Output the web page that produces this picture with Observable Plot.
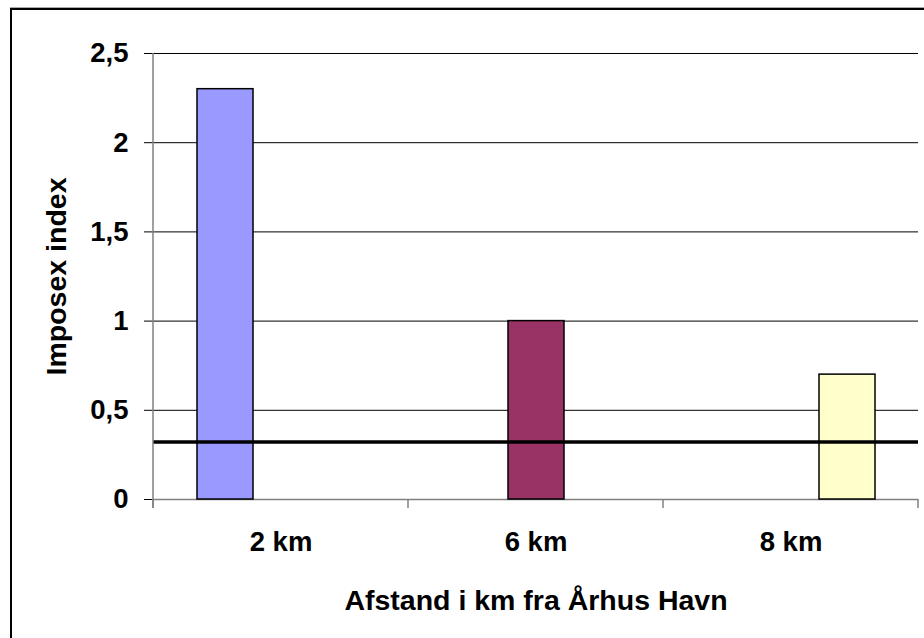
<!DOCTYPE html>
<html><head><meta charset="utf-8">
<script src="https://cdn.jsdelivr.net/npm/d3@7"></script>
<script src="https://cdn.jsdelivr.net/npm/@observablehq/plot@0.6"></script>
<style>
html,body{margin:0;padding:0;background:#fff;overflow:hidden;width:924px;height:638px}
#frame{position:absolute;left:10px;top:8px;width:1000px;height:1000px;border:2px solid #000;box-sizing:border-box;box-shadow:0 -1px 0 #aaa}
#chart{position:absolute;left:0;top:0}
#chart [aria-label="fx-axis label"], #chart [aria-label="y-axis label"]{font-size:28.5px}
</style></head><body>
<div id="frame"></div><div id="chart"></div>
<script>
const categories = ["2 km", "6 km", "8 km"];
const values = [2.3, 1.0, 0.7];
const colors = ["#9999FF", "#993366", "#FFFFCC"];
const yTicks = [0, 0.5, 1, 1.5, 2, 2.5];
const thresholdValue = [0.323];
const xTitle = "Afstand i km fra Århus Havn";
const yTitle = "Imposex index";

const data = categories.map((c, i) => ({category: c, series: c, value: values[i]}));

const plot = Plot.plot({
  width: 924, height: 638,
  marginLeft: 153, marginRight: 6, marginTop: 53, marginBottom: 139,
  style: {fontFamily: "'Liberation Sans', Arial, sans-serif", fontSize: "27.5px", fontWeight: "bold", color: "black", background: "transparent", overflow: "visible"},
  fx: {domain: categories, padding: 0, label: xTitle, labelAnchor: "center", labelOffset: 110, labelArrow: "none", tickSize: 0, tickPadding: 32, axis: "bottom"},
  x: {domain: categories, paddingInner: 0, paddingOuter: 0.74, axis: null},
  y: {domain: [0, 2.5], ticks: yTicks, tickFormat: d => String(d).replace(".", ","), tickSize: 9, tickPadding: 16, label: yTitle, labelAnchor: "center", labelOffset: 108, labelArrow: "none"},
  color: {domain: categories, range: colors},
  marks: [
    Plot.ruleY(yTicks.slice(1), {stroke: "black", strokeWidth: 1}),
    Plot.ruleY([0], {stroke: "#808080", strokeWidth: 1.5}),
    Plot.barY(data, {fx: "category", x: "series", y: "value", fill: "series", stroke: "black", strokeWidth: 1.5}),
    Plot.ruleY(thresholdValue, {stroke: "black", strokeWidth: 3.5})
  ]
});
document.getElementById("chart").appendChild(plot);

// Excel-style axis line and category-boundary ticks, placed from Plot's scales
const fx = plot.scale("fx"), y = plot.scale("y");
const starts = categories.map(c => fx.apply(c));
const bounds = [...starts, starts[starts.length - 1] + fx.bandwidth];
const svg = d3.select(plot);
const g = svg.append("g").attr("stroke", "#808080").attr("stroke-width", 1.5);
g.append("line").attr("x1", bounds[0]).attr("x2", bounds[0]).attr("y1", y.apply(2.5)).attr("y2", y.apply(0) + 9);
for (const b of bounds) {
  g.append("line").attr("x1", b).attr("x2", b).attr("y1", y.apply(0)).attr("y2", y.apply(0) + 9);
}
</script></body></html>
